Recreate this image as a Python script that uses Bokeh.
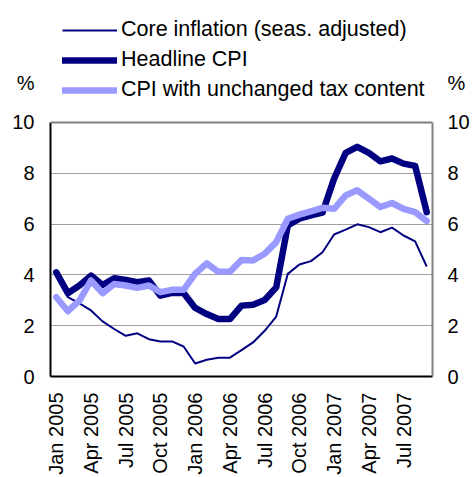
from bokeh.plotting import figure
from bokeh.models import LinearAxis, Range1d, Legend, LegendItem, FixedTicker, Span
from bokeh.embed import file_html
from bokeh.resources import INLINE
from math import pi

# Monthly observations Jan 2005 .. Sep 2007 (33 months)
tick_labels = ["Jan 2005", "Apr 2005", "Jul 2005", "Oct 2005", "Jan 2006", "Apr 2006",
               "Jul 2006", "Oct 2006", "Jan 2007", "Apr 2007", "Jul 2007"]

core = [4.04, 3.12, 2.88, 2.60, 2.17, 1.87, 1.60, 1.70, 1.47, 1.38, 1.38, 1.18,
        0.51, 0.66, 0.74, 0.74, 1.04, 1.34, 1.80, 2.36, 4.04, 4.41, 4.54, 4.89,
        5.59, 5.78, 5.99, 5.88, 5.68, 5.86, 5.55, 5.32, 4.33]
headline = [4.10, 3.28, 3.58, 3.97, 3.60, 3.87, 3.80, 3.71, 3.78, 3.18, 3.29, 3.29,
            2.70, 2.46, 2.26, 2.26, 2.79, 2.82, 3.01, 3.51, 5.95, 6.21, 6.34, 6.45,
            7.79, 8.80, 9.04, 8.80, 8.47, 8.58, 8.38, 8.29, 6.47]
cpi_tax = [3.12, 2.57, 2.99, 3.78, 3.28, 3.64, 3.58, 3.49, 3.58, 3.32, 3.41, 3.41,
           4.05, 4.45, 4.12, 4.12, 4.59, 4.57, 4.83, 5.29, 6.21, 6.37, 6.50, 6.64,
           6.60, 7.13, 7.33, 7.00, 6.67, 6.83, 6.60, 6.47, 6.12]
y_ticks = [0, 2, 4, 6, 8, 10]
y_min, y_max = 0, 10
unit_label = "%"
unit_pos = 11.57     # where the "%" unit sits, above the top tick
y_view_top = 14.80   # frame extends above the plot box to hold the legend

x = list(range(len(headline)))
tick_pos = [3 * i for i in range(len(tick_labels))]

FONT = "Liberation Sans"

p = figure(width=472, height=477, output_backend="svg", toolbar_location=None,
           x_range=Range1d(-0.5, len(x) - 0.5), y_range=Range1d(y_min, y_view_top),
           y_axis_location=None,
           min_border_left=50, min_border_right=40, min_border_top=0, min_border_bottom=101)
p.background_fill_color = "white"
p.border_fill_color = "white"
p.outline_line_color = None

r_core = p.line(x, core, line_color="#000080", line_width=2)
r_head = p.line(x, headline, line_color="#000080", line_width=6.5, line_join="round", line_cap="round")
r_tax = p.line(x, cpi_tax, line_color="#9999FF", line_width=6.5, line_join="round", line_cap="round")

def style_axis(ax):
    ax.major_tick_line_color = None
    ax.minor_tick_line_color = None
    ax.major_tick_out = 0
    ax.major_tick_in = 0
    ax.minor_tick_out = 0
    ax.minor_tick_in = 0
    ax.major_label_text_font = FONT
    ax.major_label_text_font_size = "20px"
    ax.major_label_text_color = "black"

# x axis
xa = p.xaxis[0]
xa.ticker = FixedTicker(ticks=tick_pos)
xa.major_label_overrides = {pos: lab for pos, lab in zip(tick_pos, tick_labels)}
xa.major_label_orientation = pi / 2
xa.major_label_standoff = 16
xa.axis_line_color = "black"
xa.axis_line_width = 2
style_axis(xa)

# frame edge lines (added first so they sit next to the frame)
for side, color in (("left", "black"), ("right", "#808080")):
    edge = LinearAxis(ticker=FixedTicker(ticks=[]), bounds=(y_min, y_max))
    style_axis(edge)
    edge.axis_line_color = color
    edge.axis_line_width = 2
    p.add_layout(edge, side)

# labelled y axes (with the "%" unit above the top tick)
for side, standoff in (("left", 16), ("right", 15)):
    ax = LinearAxis(ticker=FixedTicker(ticks=y_ticks + [unit_pos]))
    ax.major_label_overrides = {unit_pos: unit_label}
    ax.major_label_standoff = standoff
    ax.axis_line_color = None
    style_axis(ax)
    p.add_layout(ax, side)

p.xgrid.grid_line_color = None
p.ygrid.ticker = FixedTicker(ticks=y_ticks[1:-1])
p.ygrid.grid_line_color = "#A0A0A0"
p.ygrid.grid_line_width = 1

p.add_layout(Span(location=y_max, dimension="width", line_color="#808080", line_width=2))

legend = Legend(items=[LegendItem(label="Core inflation (seas. adjusted)", renderers=[r_core]),
                       LegendItem(label="Headline CPI", renderers=[r_head]),
                       LegendItem(label="CPI with unchanged tax content", renderers=[r_tax])],
                location=(12, 274), orientation="vertical")
legend.background_fill_alpha = 0
legend.border_line_color = None
legend.padding = 0
legend.margin = 0
legend.spacing = 5
legend.glyph_width = 55
legend.glyph_height = 24
legend.label_height = 24
legend.label_standoff = 4
legend.label_text_font = FONT
legend.label_text_font_size = "21.5px"
legend.label_text_color = "black"
p.add_layout(legend, "center")

open("out.html", "w").write(file_html(p, INLINE))
